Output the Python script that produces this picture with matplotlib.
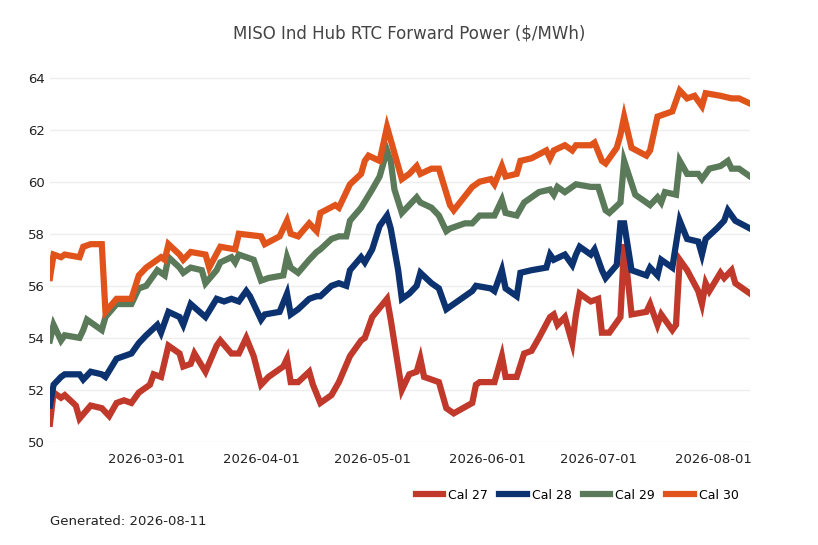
import matplotlib
matplotlib.use("Agg")
import matplotlib.pyplot as plt
import matplotlib.dates as mdates
import numpy as np
import pandas as pd

base = pd.Timestamp("2026-02-03")

cal30_day = [0,1,3,4,8,9,11,14,15,18,22,24,26,30,31,32,35,36,38,42,43,46,50,51,57,58,62,64,65,67,70,72,73,77,78,81,84,85,86,89,91,92,95,97,99,100,103,105,108,109,114,116,119,120,122,123,126,127,130,134,135,136,139,141,142,146,147,149,150,153,154,155,157,161,162,164,168,170,172,174,176,177,181,184,186,189]
cal30 = [56.3,57.2,57.1,57.2,57.1,57.5,57.6,57.6,55.0,55.5,55.5,56.4,56.7,57.1,57.0,57.6,57.2,57.0,57.3,57.2,56.7,57.5,57.4,58.0,57.9,57.6,57.9,58.5,58.0,57.9,58.4,58.1,58.8,59.1,59.0,59.9,60.3,60.8,61.0,60.8,62.1,61.6,60.1,60.3,60.6,60.3,60.5,60.5,59.1,58.9,59.8,60.0,60.1,59.9,60.6,60.2,60.3,60.8,60.9,61.2,60.9,61.2,61.4,61.2,61.4,61.4,61.5,60.8,60.7,61.3,61.8,62.5,61.3,61.0,61.2,62.5,62.7,63.5,63.2,63.3,62.9,63.4,63.3,63.2,63.2,63.0]

cal29_day = [0,1,3,4,8,9,10,14,15,18,22,24,26,29,31,32,35,36,38,41,42,45,46,49,50,51,55,57,59,63,64,65,67,70,72,73,76,78,80,81,84,87,89,91,92,93,95,97,99,100,103,105,107,108,112,114,116,119,120,122,123,126,128,130,132,135,136,137,139,142,146,148,150,151,154,155,158,162,164,165,166,169,170,172,175,176,178,181,183,184,186,189]
cal29 = [53.9,54.5,53.9,54.1,54.0,54.3,54.7,54.3,54.8,55.3,55.3,55.9,56.0,56.6,56.4,57.1,56.7,56.5,56.7,56.6,56.1,56.6,56.9,57.1,56.9,57.2,57.0,56.2,56.3,56.4,57.1,56.7,56.5,57.0,57.3,57.4,57.8,57.9,57.9,58.5,59.0,59.7,60.2,61.2,60.8,59.7,58.8,59.1,59.4,59.2,59.0,58.7,58.1,58.2,58.4,58.4,58.7,58.7,58.7,59.3,58.8,58.7,59.2,59.4,59.6,59.7,59.5,59.8,59.6,59.9,59.8,59.8,58.9,58.8,59.2,60.8,59.5,59.1,59.4,59.2,59.6,59.5,60.8,60.3,60.3,60.1,60.5,60.6,60.8,60.5,60.5,60.2]

cal28_day = [0,1,3,4,8,9,11,14,15,18,22,24,26,29,30,32,35,36,37,38,42,45,47,49,51,53,54,57,58,62,64,65,67,70,72,73,76,78,80,81,84,85,87,89,91,92,94,95,97,99,100,103,105,107,109,114,115,119,120,122,123,126,127,130,134,135,136,139,141,142,143,146,147,149,150,153,154,155,157,161,162,164,165,168,170,172,175,176,177,180,182,183,185,189]
cal28 = [51.4,52.2,52.5,52.6,52.6,52.4,52.7,52.6,52.5,53.2,53.4,53.8,54.1,54.5,54.2,55.0,54.8,54.5,54.9,55.3,54.8,55.5,55.4,55.5,55.4,55.8,55.6,54.7,54.9,55.0,55.7,54.9,55.1,55.5,55.6,55.6,56.0,56.1,56.0,56.6,57.1,56.9,57.4,58.3,58.7,58.2,56.6,55.5,55.7,56.0,56.5,56.1,55.9,55.1,55.3,55.8,56.0,55.9,55.8,56.6,55.9,55.6,56.5,56.6,56.7,57.2,57.0,57.2,56.8,57.2,57.5,57.2,57.4,56.6,56.3,56.8,58.4,58.4,56.6,56.4,56.7,56.4,57.0,56.7,58.5,57.8,57.7,57.2,57.8,58.2,58.5,58.9,58.5,58.2]

cal27_day = [0,1,3,4,7,8,11,14,16,18,20,22,24,27,28,30,32,35,36,38,39,42,45,46,49,51,53,55,57,59,63,64,65,67,70,71,73,76,78,81,84,85,87,91,92,94,95,97,99,100,101,105,107,109,114,115,116,120,122,123,126,128,130,132,135,136,137,139,141,142,143,146,148,149,151,154,155,157,161,162,164,165,168,169,170,172,175,176,177,178,181,182,184,185,189]
cal27 = [50.7,51.9,51.7,51.8,51.4,50.9,51.4,51.3,51.0,51.5,51.6,51.5,51.9,52.2,52.6,52.5,53.7,53.4,52.9,53.0,53.4,52.7,53.7,53.9,53.4,53.4,54.0,53.3,52.2,52.5,52.9,53.2,52.3,52.3,52.7,52.2,51.5,51.8,52.3,53.3,53.9,54.0,54.8,55.5,54.7,52.9,52.0,52.6,52.7,53.2,52.5,52.3,51.3,51.1,51.5,52.2,52.3,52.3,53.3,52.5,52.5,53.4,53.5,54.0,54.8,54.9,54.5,54.8,53.8,54.9,55.7,55.4,55.5,54.2,54.2,54.8,57.6,54.9,55.0,55.3,54.5,54.9,54.3,54.5,57.0,56.6,55.8,55.3,56.1,55.8,56.5,56.3,56.6,56.1,55.7]

series = [("Cal 27", cal27_day, cal27, "#c0392b"),
          ("Cal 28", cal28_day, cal28, "#0c3270"),
          ("Cal 29", cal29_day, cal29, "#5b7a5a"),
          ("Cal 30", cal30_day, cal30, "#e0541c")]

fig = plt.figure(figsize=(8.18, 5.45), dpi=100)
ax = fig.add_axes([0.061, 0.189, 0.856, 0.683])
for name, d, v, c in series:
    dates = base + pd.to_timedelta(d, unit="D")
    ax.plot(dates, v, color=c, lw=4.5, label=name, solid_joinstyle="miter")

ax.set_ylim(50, 64.3)
ax.set_yticks(range(50, 65, 2))
ax.set_xlim(base, base + pd.Timedelta(days=189))
ax.xaxis.set_major_locator(mdates.MonthLocator(bymonthday=1))
ax.xaxis.set_major_formatter(mdates.DateFormatter("%Y-%m-%d"))
for s in ax.spines.values():
    s.set_visible(False)
ax.grid(axis="y", color="#eeeeee", lw=1)
ax.set_axisbelow(True)
ax.tick_params(length=0, labelsize=9.5, colors="#222222")
ax.tick_params(axis="x", pad=8)
fig.suptitle("MISO Ind Hub RTC Forward Power ($/MWh)", x=0.5, y=0.955, fontsize=12, color="#444444")
ax.legend(loc="upper right", bbox_to_anchor=(1.0, -0.095), ncol=4, frameon=False,
          fontsize=9, handlelength=2.2, columnspacing=0.9, handletextpad=0.4)
fig.text(0.061, 0.037, "Generated: 2026-08-11", fontsize=9.5, color="#222222")
fig.savefig("out.png", dpi=100)
